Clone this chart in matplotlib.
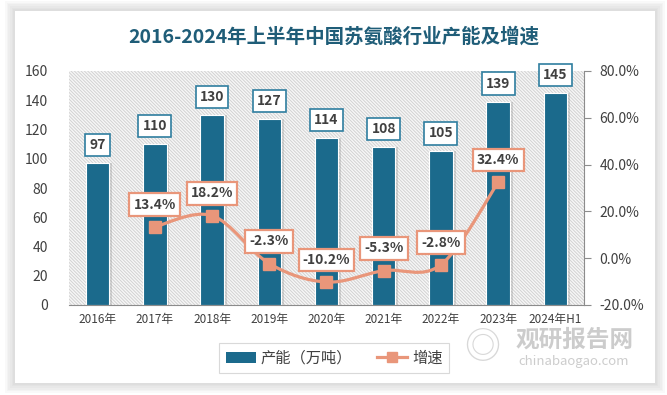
import numpy as np
import matplotlib.pyplot as plt
from matplotlib.patches import Rectangle, PathPatch, Patch
from matplotlib.path import Path
from matplotlib.lines import Line2D

plt.rcParams['font.family'] = ['Noto Sans CJK SC', 'DejaVu Sans']
plt.rcParams['hatch.linewidth'] = 0.7

years = ['2016年', '2017年', '2018年', '2019年', '2020年', '2021年', '2022年', '2023年', '2024年H1']
capacity = [97, 110, 130, 127, 114, 108, 105, 139, 145]
growth_years = ['2017年', '2018年', '2019年', '2020年', '2021年', '2022年', '2023年']
growth = [13.4, 18.2, -2.3, -10.2, -5.3, -2.8, 32.4]

bar_color = '#1b6a8c'
line_color = '#e9967a'
text_color = '#404040'

fig = plt.figure(figsize=(6.67, 3.95), dpi=100)
fig.patch.set_facecolor('white')

# card with soft shadow
for i in range(6):
    d = (6 - i) * 0.0025
    fig.patches.append(Rectangle((15 / 667 - d, 12 / 395 - d * 1.7), 640 / 667 + 2 * d, 372 / 395 + 2 * d * 1.7,
                                 transform=fig.transFigure, facecolor='#9a9a9a', alpha=0.06,
                                 edgecolor='none', zorder=-3))
fig.patches.append(Rectangle((15 / 667, 12 / 395), 640 / 667, 372 / 395, transform=fig.transFigure,
                             facecolor='white', edgecolor='none', zorder=-2))

ax = fig.add_axes([69 / 667, 90 / 395, 515 / 667, 234 / 395])
ax.set_facecolor('none')
x = np.arange(len(years))

# hatched plot area
ax.add_patch(Rectangle((0, 0), 1, 1, transform=ax.transAxes, facecolor='#f7f7f7',
                       edgecolor='#d2d2d2', hatch='\\' * 10, linewidth=0, zorder=0))

# shadow + bars
ax.bar(x + 0.05, capacity, width=0.41, color='#8a8a8a', alpha=0.3, zorder=1)
bars = ax.bar(x, capacity, width=0.41, color=bar_color, edgecolor='white', linewidth=0.8, zorder=2)

for xi, v in zip(x, capacity):
    ax.annotate(str(v), (xi, v), xytext=(0, 13), textcoords='offset points', ha='center', va='center',
                fontsize=10, fontweight='bold', color=text_color, zorder=5,
                bbox=dict(boxstyle='square,pad=0.3', facecolor='white', edgecolor='#2f7e9f', linewidth=1.2))

ax.set_xlim(-0.5, len(years) - 0.5)
ax.set_ylim(0, 160)
ax.set_yticks(range(0, 161, 20))
ax.set_xticks(x)
ax.set_xticklabels(years, fontsize=8.5, color=text_color)
ax.tick_params(axis='y', labelsize=10, colors=text_color, length=0, pad=15)
ax.tick_params(axis='x', length=0, pad=6)
for s in ['top', 'left', 'right']:
    ax.spines[s].set_visible(False)
ax.spines['bottom'].set_color('#8c8c8c')

ax2 = ax.twinx()
ax2.set_ylim(-20, 80)
ax2.set_yticks(range(-20, 81, 20))
ax2.set_yticklabels([f'{v:.1f}%' for v in range(-20, 81, 20)])
ax2.tick_params(axis='y', labelsize=10, colors=text_color, length=5, pad=6)
ax2.tick_params(axis='y', color='#8c8c8c')
for s in ['top', 'left', 'bottom']:
    ax2.spines[s].set_visible(False)
ax2.spines['right'].set_color('#8c8c8c')

# smoothed line (Catmull-Rom as cubic Bezier)
gx = np.array([years.index(y) for y in growth_years], dtype=float)
gy = np.array(growth, dtype=float)
pts = np.column_stack([gx, gy])
verts = [pts[0]]
codes = [Path.MOVETO]
for i in range(len(pts) - 1):
    p0 = pts[i - 1] if i > 0 else pts[i]
    p1, p2 = pts[i], pts[i + 1]
    p3 = pts[i + 2] if i + 2 < len(pts) else pts[i + 1]
    c1 = p1 + (p2 - p0) / 6
    c2 = p2 - (p3 - p1) / 6
    verts += [c1, c2, p2]
    codes += [Path.CURVE4] * 3
ax2.add_patch(PathPatch(Path(verts, codes), facecolor='none', edgecolor=line_color, linewidth=2.3, zorder=3))
ax2.plot(gx, gy, linestyle='none', marker='s', markersize=8, color=line_color, zorder=4)

for xi, v in zip(gx, gy):
    ax2.annotate(f'{v:.1f}%', (xi, v), xytext=(0, 16), textcoords='offset points', ha='center', va='center',
                 fontsize=10, fontweight='bold', color=text_color, zorder=6,
                 bbox=dict(boxstyle='square,pad=0.3', facecolor='white', edgecolor=line_color, linewidth=1.6))

fig.text(334 / 667, 1 - 37 / 395, '2016-2024年上半年中国苏氨酸行业产能及增速', ha='center', va='center',
         fontsize=14, fontweight='bold', color='#1f5d78')

handles = [Patch(facecolor=bar_color, edgecolor='none'),
           Line2D([0], [0], color=line_color, linewidth=2.3, marker='s', markersize=7)]
leg = fig.legend(handles, ['产能（万吨）', '增速'], loc='center', bbox_to_anchor=(334 / 667, 1 - 358 / 395),
                 ncol=2, fontsize=11, frameon=True, fancybox=False, handlelength=2.0, handletextpad=0.3,
                 columnspacing=1.6, borderpad=0.45)
leg.get_frame().set_edgecolor('#d0d0d0')
leg.get_frame().set_linewidth(0.8)
for t in leg.get_texts():
    t.set_color(text_color)

# watermark
fig.text(575 / 667, 1 - 340 / 395, '观研报告网', ha='center', va='center', fontsize=17, fontweight='bold',
         color='#c4c4c4', alpha=0.85)
fig.text(574 / 667, 1 - 362 / 395, 'chinabaogao.com', ha='center', va='center', fontsize=9.5,
         color='#c4c4c4', alpha=0.85)
fig.text(482 / 667, 1 - 348 / 395, '◎', ha='center', va='center', fontsize=26, color='#cfcfcf', alpha=0.8)

fig.savefig('out.png', dpi=100)
